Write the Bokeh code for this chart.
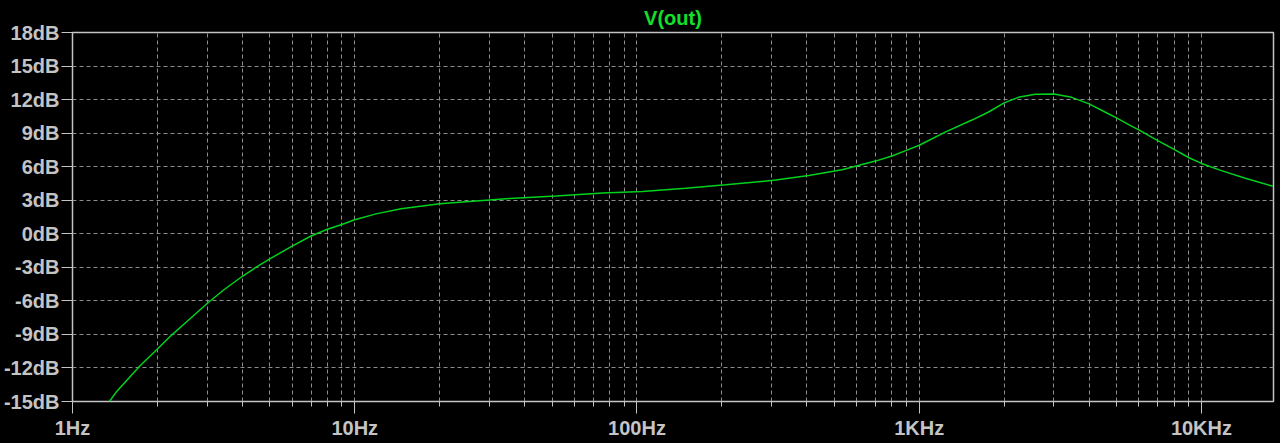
from bokeh.plotting import figure
from bokeh.models import FixedTicker, Range1d
from bokeh.embed import file_html
from bokeh.resources import INLINE

# ---- data ----
freq_hz = [1.352, 1.434, 1.735, 2.0, 2.245, 2.537, 3.0, 3.42, 4.0, 4.49, 5.0, 6.0, 7.0,
           8.0, 9.0, 10.0, 11.9, 14.6, 20.0, 26.9, 35.3, 51.6, 75.5, 104.5, 148.8, 206,
           310, 406, 533, 627, 700, 800, 900, 1000, 1236, 1537, 1761, 2000, 2245, 2574,
           3000, 3470, 4000, 4549, 5000, 5505, 6000, 7000, 8000, 9000, 10000, 11770,
           14200, 17900]
gain_db = [-15.0, -14.1, -11.8, -10.3, -9.06, -7.87, -6.24, -5.05, -3.80, -2.97, -2.25,
           -1.1, -0.2, 0.4, 0.83, 1.25, 1.78, 2.23, 2.69, 2.93, 3.16, 3.37, 3.64, 3.79,
           4.08, 4.38, 4.8, 5.22, 5.72, 6.2, 6.5, 6.96, 7.46, 7.92, 9.09, 10.17, 10.89,
           11.71, 12.2, 12.47, 12.5, 12.2, 11.62, 10.89, 10.37, 9.79, 9.29, 8.33, 7.54,
           6.82, 6.29, 5.65, 4.98, 4.25]

x_major = [1, 10, 100, 1000, 10000]
x_major_labels = ["1Hz", "10Hz", "100Hz", "1KHz", "10KHz"]
x_minor = [m * d for d in [1, 10, 100, 1000, 10000] for m in range(2, 10) if m * d < 18000]
y_ticks = [-15, -12, -9, -6, -3, 0, 3, 6, 9, 12, 15, 18]
y_labels = ["-15dB", "-12dB", "-9dB", "-6dB", "-3dB", "0dB", "3dB", "6dB",
            "9dB", "12dB", "15dB", "18dB"]
title_text = "V(out)"

FG = "#c4c4c4"
GRID = "#8e8e8e"
GREEN = "#00d21e"
FONT = "Liberation Sans"

p = figure(width=1280, height=443, x_axis_type="log",
           x_range=Range1d(1, 18000), y_range=Range1d(-15, 18),
           output_backend="svg", toolbar_location=None, title=title_text)

p.background_fill_color = "black"
p.border_fill_color = "black"
p.outline_line_color = FG
p.outline_line_width = 1.5
p.min_border_left = 69
p.min_border_right = 7
p.min_border_top = 31
p.min_border_bottom = 42

p.title.align = "center"
p.title.text_color = "#12e02a"
p.title.text_font = FONT
p.title.text_font_style = "bold"
p.title.text_font_size = "20px"
p.title.standoff = 8
p.title.offset = 0

p.line(freq_hz, gain_db, line_color=GREEN, line_width=1.5)

xt = FixedTicker(ticks=x_major, minor_ticks=x_minor)
p.xaxis.ticker = xt
p.xaxis.major_label_overrides = {t: l for t, l in zip(x_major, x_major_labels)}
p.yaxis.ticker = FixedTicker(ticks=y_ticks, minor_ticks=[])
p.yaxis.major_label_overrides = {t: l for t, l in zip(y_ticks, y_labels)}

for ax in (p.xaxis[0], p.yaxis[0]):
    ax.axis_line_color = None
    ax.major_tick_line_color = FG
    ax.minor_tick_line_color = FG
    ax.major_tick_in = 0
    ax.minor_tick_in = 0
    ax.major_label_text_color = FG
    ax.major_label_text_font = FONT
    ax.major_label_text_font_style = "bold"
    ax.major_label_text_font_size = "20px"

p.xaxis.major_tick_out = 12
p.xaxis.minor_tick_out = 5
p.xaxis.major_label_standoff = 3
p.yaxis.major_tick_out = 11
p.yaxis.minor_tick_out = 0
p.yaxis.major_label_standoff = 2

for g in (p.xgrid[0], p.ygrid[0]):
    g.grid_line_color = GRID
    g.grid_line_dash = "4 3"
    g.grid_line_width = 1
p.xgrid.ticker = xt
p.xgrid.minor_grid_line_color = GRID
p.xgrid.minor_grid_line_dash = "4 3"

try:
    html = file_html(p, INLINE, template="{% block preamble %}<style>body{background:#000;}</style>{% endblock %}")
except Exception:
    html = file_html(p, INLINE)
open("out.html", "w").write(html)
